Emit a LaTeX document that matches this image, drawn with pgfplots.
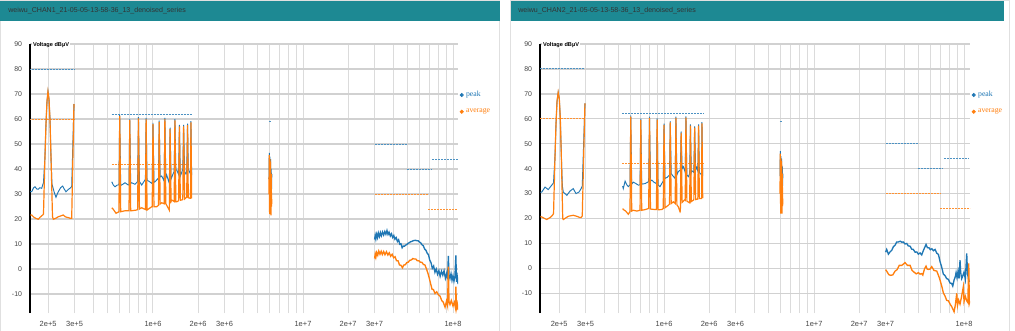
\documentclass[border=0pt]{standalone}
\usepackage{fontspec}
\setmainfont{Liberation Sans}
\newfontfamily\legendfont{Liberation Serif}
\usepackage{pgfplots}
\pgfplotsset{compat=1.18}
\definecolor{cpeak}{HTML}{1F77B4}
\definecolor{cavg}{HTML}{FF7F0E}
\definecolor{hdr}{HTML}{1D8993}
\definecolor{ticktxt}{HTML}{444444}
\tikzset{
 pk/.style={color=cpeak, line width=0.7pt},
 av/.style={color=cavg, line width=0.9pt},
 pkn/.style={color=cpeak, line width=1.0pt},
 avn/.style={color=cavg, line width=1.0pt},
 lpk/.style={color=cpeak!80!white, dash pattern=on 1.5pt off 0.75pt, line width=0.75pt},
 lav/.style={color=cavg!85!white, dash pattern=on 1.5pt off 0.75pt, line width=0.75pt},
}

\begin{document}
\begin{tikzpicture}
\path[use as bounding box] (0,0) rectangle (761.25pt,-247.5pt);
\begin{scope}[x=0.75pt,y=-0.75pt]
 \fill[white] (0,0) rectangle (1015,330);
 \draw[black!12, line width=0.75pt] (0.5,0.5) rectangle (499.5,340);
 \fill[hdr] (0.5,0.5) rectangle (499.5,20.5);
 \node[anchor=west, inner sep=0pt, text=black!80, font=\fontsize{5.3}{6}\selectfont] at (8,11) {weiwu\_CHAN1\_21-05-05-13-58-36\_13\_denoised\_series};
 \draw[black!12, line width=0.75pt] (510.5,0.5) rectangle (1009.5,340);
 \fill[hdr] (510.5,0.5) rectangle (1004,20.5);
 \node[anchor=west, inner sep=0pt, text=black!80, font=\fontsize{5.3}{6}\selectfont] at (518,11) {weiwu\_CHAN2\_21-05-05-13-58-36\_13\_denoised\_series};
\end{scope}

% ================= PANEL 1 =================
\begin{axis}[name=ax1, at={(22.5pt,-234.75pt)}, anchor=south west,
  scale only axis, width=321pt, height=201.75pt,
  xmode=log, xmin=1.514e5, xmax=1.08e8, ymin=-17.6, ymax=90,
  axis y line=left, axis x line=bottom,
  x axis line style={draw=none},
  y axis line style={black, line width=1.1pt, -},
  xtick={2e5,3e5,1e6,2e6,3e6,1e7,2e7,3e7,1e8},
  xticklabels={2e+5,3e+5,1e+6,2e+6,3e+6,1e+7,2e+7,3e+7,1e+8},
  minor xtick={4e5,5e5,6e5,7e5,8e5,9e5,4e6,5e6,6e6,7e6,8e6,9e6,4e7,5e7,6e7,7e7,8e7,9e7},
  ytick={-10,0,10,20,30,40,50,60,70,80,90},
  yticklabels={-10,0,10,20,30,40,50,60,70,80,90},
  major tick length=0pt, minor tick length=0pt,
  xmajorgrids, xminorgrids, ymajorgrids,
  x grid style={black!14, line width=0.75pt},
  y grid style={black!18, line width=1pt},
  xticklabel style={font=\fontsize{5.6}{6}\selectfont, text=ticktxt, yshift=-2.5pt},
  yticklabel style={font=\fontsize{5.2}{6}\selectfont, text=ticktxt, xshift=-2.5pt},
  legend style={draw=none, fill=none, at={(1.004,0.835)}, anchor=north west, font=\fontsize{5.8}{6}\legendfont, row sep=3.5pt, inner sep=0pt},
  legend cell align=left,
  ]
% limits
\addplot[lpk, forget plot] coordinates {(1.5e5,80) (3e5,80)};
\addplot[lpk, forget plot] coordinates {(5.3e5,62) (1.83e6,62)};
\addplot[lpk, forget plot] coordinates {(5.93e6,59) (6.2e6,59)};
\addplot[lpk, forget plot] coordinates {(3e7,50) (4.93e7,50)};
\addplot[lpk, forget plot] coordinates {(4.93e7,40) (7.24e7,40)};
\addplot[lpk, forget plot] coordinates {(7.3e7,44) (1.08e8,44)};
\addplot[lav, forget plot] coordinates {(1.5e5,60) (3e5,60)};
\addplot[lav, forget plot] coordinates {(5.3e5,42) (1.83e6,42)};
\addplot[lav, forget plot] coordinates {(3e7,30) (6.85e7,30)};
\addplot[lav, forget plot] coordinates {(6.85e7,24) (1.08e8,24)};
% peak
\addplot[pk, forget plot] coordinates {(1.52e5,31.0) (1.553e5,30.9) (1.60e5,32.5) (1.634e5,32.9) (1.68e5,32.0) (1.719e5,31.9) (1.76e5,32.5) (1.811e5,32.3) (1.85e5,34.0) (1.862e5,34.5) (1.905e5,45) (1.935e5,58) (1.965e5,67) (1.995e5,71) (2.026e5,68) (2.057e5,60) (2.089e5,45) (2.12e5,34) (2.145e5,32.9) (2.20e5,30.5) (2.256e5,28.7) (2.30e5,30.0) (2.337e5,30.9) (2.42e5,32.5) (2.50e5,33.2) (2.56e5,32.0) (2.63e5,30.9) (2.72e5,31.8) (2.797e5,32.3) (2.871e5,33.0) (2.973e5,66.0)};
\addplot[pk, forget plot] coordinates {(5.31e5,34.9) (5.45e5,33.5) (5.58e5,32.9) (5.78e5,33.6) (5.93e5,33.6) (6.00e5,61.7) (6.09e5,33.4) (6.18e5,33.6) (6.51e5,34.5) (6.84e5,33.6) (6.92e5,33.8) (7.00e5,60.1) (7.10e5,34.2) (7.21e5,34.5) (7.59e5,33.9) (7.90e5,35.0) (8.00e5,60.8) (8.12e5,35.0) (8.41e5,33.6) (8.84e5,35.6) (8.90e5,35.5) (9.00e5,60.5) (9.13e5,35.3) (9.30e5,35.3) (9.80e5,34.3) (9.88e5,34.5) (1.000e6,58.5) (1.015e6,34.7) (1.031e6,34.9) (1.085e6,36.3) (1.088e6,36.3) (1.100e6,59.4) (1.116e6,36.8) (1.143e6,37.2) (1.184e6,35.3) (1.187e6,35.5) (1.200e6,60.5) (1.218e6,36.5) (1.234e6,37.6) (1.265e6,35.5) (1.285e6,34.3) (1.300e6,56.5) (1.320e6,36.0) (1.366e6,38.3) (1.384e6,39.0) (1.400e6,60.0) (1.420e6,39.6) (1.439e6,39.6) (1.482e6,37.8) (1.500e6,57.6) (1.522e6,37.2) (1.553e6,38.6) (1.580e6,39.9) (1.600e6,57.6) (1.625e6,39.0) (1.660e6,38.0) (1.677e6,38.5) (1.700e6,58.1) (1.719e6,39.9) (1.765e6,38.5) (1.780e6,38.0) (1.790e6,59.2) (1.810e6,37.6)};
\addplot[pk, forget plot] coordinates {(5.93e6,36) (5.96e6,46.5) (5.99e6,30) (6.02e6,45) (6.05e6,33) (6.08e6,44) (6.11e6,35) (6.14e6,40) (6.17e6,32) (6.2e6,38)};
\addplot[pkn, forget plot] coordinates {(3.00e7,11.8) (3.03e7,13.4) (3.06e7,12.0) (3.10e7,13.9) (3.14e7,12.6) (3.18e7,14.4) (3.23e7,13.0) (3.28e7,14.6) (3.33e7,13.3) (3.39e7,14.8) (3.45e7,13.6) (3.51e7,15.0) (3.57e7,13.9) (3.63e7,15.4) (3.69e7,13.8) (3.75e7,14.7) (3.82e7,13.2) (3.89e7,14.1) (3.96e7,12.6) (4.03e7,13.4) (4.10e7,11.9) (4.18e7,12.6) (4.26e7,11.0) (4.34e7,11.7) (4.42e7,9.9) (4.50e7,10.1) (4.58e7,8.5) (4.66e7,9.2) (4.75e7,9.1) (4.84e7,9.6) (4.93e7,9.8) (5.02e7,10.3) (5.11e7,10.5) (5.21e7,10.9) (5.31e7,11.0) (5.41e7,11.3) (5.52e7,11.4) (5.63e7,11.5) (5.74e7,11.3) (5.85e7,11.3) (5.97e7,10.8) (6.09e7,10.5) (6.21e7,9.7) (6.34e7,9.3) (6.47e7,8.0) (6.60e7,7.5) (6.73e7,6.3) (6.86e7,5.8) (7.00e7,3.5) (7.14e7,2.5) (7.28e7,0.3) (7.43e7,1.2) (7.58e7,-1.3) (7.73e7,0.0) (7.89e7,-2.1) (8.05e7,-0.6) (8.21e7,-2.9) (8.38e7,-0.9) (8.55e7,-2.5) (8.72e7,-0.7) (8.90e7,-3.7) (9.08e7,-1.7) (9.20e7,-4.1) (9.31e7,5.2) (9.40e7,-2.2) (9.55e7,-3.8) (9.70e7,-1.9) (9.85e7,-4.5) (1.000e8,-2.7) (1.015e8,-4.8) (1.030e8,-2.9) (1.045e8,5.4) (1.055e8,-5.1) (1.068e8,-3.2) (1.080e8,-6.0)};
% average
\addplot[av, forget plot] coordinates {(1.52e5,21.6) (1.553e5,21.6) (1.60e5,20.8) (1.65e5,20.3) (1.719e5,19.9) (1.76e5,20.6) (1.839e5,21.6) (1.862e5,22.0) (1.905e5,45) (1.935e5,58) (1.965e5,67) (1.995e5,71) (2.026e5,68) (2.057e5,60) (2.089e5,45) (2.138e5,21) (2.165e5,19.9) (2.25e5,20.3) (2.337e5,20.9) (2.42e5,21.2) (2.523e5,21.6) (2.60e5,20.9) (2.659e5,20.7) (2.75e5,20.5) (2.80e5,20.3) (2.871e5,20.3) (2.973e5,66.0)};
\addplot[av, forget plot] coordinates {(5.31e5,24.5) (5.43e5,23.9) (5.67e5,22.3) (5.93e5,22.9) (6.00e5,61.2) (6.09e5,22.9) (6.51e5,23.3) (6.92e5,23.3) (7.00e5,59.6) (7.10e5,23.3) (7.21e5,23.3) (7.79e5,23.6) (7.90e5,23.8) (8.00e5,60.3) (8.12e5,24.0) (8.41e5,24.5) (8.90e5,23.8) (9.00e5,60.0) (9.13e5,23.6) (9.80e5,24.9) (9.88e5,24.9) (1.000e6,58.0) (1.015e6,24.9) (1.058e6,24.9) (1.088e6,25.5) (1.100e6,58.9) (1.116e6,26.0) (1.143e6,26.5) (1.187e6,26.1) (1.200e6,60.0) (1.218e6,26.1) (1.265e6,24.3) (1.285e6,23.5) (1.300e6,56.0) (1.320e6,27.0) (1.333e6,27.6) (1.384e6,27.0) (1.400e6,59.5) (1.420e6,26.9) (1.439e6,26.9) (1.482e6,27.3) (1.500e6,57.1) (1.522e6,27.5) (1.553e6,27.6) (1.580e6,27.8) (1.600e6,57.1) (1.625e6,28.0) (1.677e6,28.7) (1.700e6,57.6) (1.719e6,28.5) (1.765e6,28.3) (1.780e6,28.3) (1.790e6,58.7) (1.810e6,28.3)};
\addplot[av, forget plot] coordinates {(5.93e6,30) (5.96e6,45.6) (5.99e6,22) (6.02e6,44) (6.05e6,24) (6.08e6,43) (6.11e6,21.5) (6.14e6,38) (6.17e6,25) (6.2e6,28)};
\addplot[avn, forget plot] coordinates {(3.00e7,4.2) (3.03e7,5.9) (3.06e7,4.7) (3.10e7,6.6) (3.15e7,5.5) (3.20e7,7.2) (3.26e7,5.9) (3.32e7,7.1) (3.38e7,5.8) (3.45e7,7.0) (3.52e7,5.7) (3.60e7,6.9) (3.68e7,5.6) (3.76e7,6.5) (3.84e7,5.1) (3.93e7,5.9) (4.02e7,4.5) (4.11e7,4.9) (4.20e7,3.3) (4.30e7,3.3) (4.40e7,1.6) (4.50e7,1.5) (4.60e7,0.5) (4.70e7,1.6) (4.81e7,1.7) (4.92e7,2.6) (5.03e7,2.7) (5.15e7,3.5) (5.27e7,3.6) (5.40e7,4.2) (5.52e7,4.0) (5.65e7,4.0) (5.78e7,3.3) (5.92e7,3.3) (6.06e7,2.7) (6.20e7,2.7) (6.35e7,1.8) (6.50e7,1.6) (6.65e7,0.1) (6.80e7,-1.6) (6.95e7,-3.7) (7.10e7,-6.0) (7.25e7,-8.1) (7.40e7,-8.2) (7.59e7,-9.8) (7.79e7,-9.1) (7.98e7,-10.3) (8.19e7,-10.8) (8.41e7,-12.6) (8.62e7,-13.3) (8.85e7,-15.3) (9.05e7,-12.8) (9.20e7,-14.7) (9.31e7,0.9) (9.40e7,-13.0) (9.55e7,-14.2) (9.75e7,-12.6) (1.000e8,-14.8) (1.020e8,-13.3) (1.040e8,-15.7) (1.045e8,-7.1) (1.055e8,-15.6) (1.068e8,-14.0) (1.080e8,-16.4)};
\addlegendimage{only marks, mark=*, mark size=1.3pt, cpeak}
\addlegendentry{\textcolor{cpeak}{peak}}
\addlegendimage{only marks, mark=*, mark size=1.3pt, cavg}
\addlegendentry{\textcolor{cavg}{average}}
\end{axis}
\node[anchor=west, fill=white, inner sep=0.6pt, font=\bfseries\fontsize{4.2}{5}\selectfont] at ([xshift=1.6pt,yshift=-0.6pt]ax1.north west) {Voltage dBµV};

% ================= PANEL 2 =================
\begin{axis}[name=ax2, at={(405pt,-234.75pt)}, anchor=south west,
  scale only axis, width=322.5pt, height=201.75pt,
  xmode=log, xmin=1.49e5, xmax=1.096e8, ymin=-17.9, ymax=90,
  axis y line=left, axis x line=bottom,
  x axis line style={draw=none},
  y axis line style={black, line width=1.1pt, -},
  xtick={2e5,3e5,1e6,2e6,3e6,1e7,2e7,3e7,1e8},
  xticklabels={2e+5,3e+5,1e+6,2e+6,3e+6,1e+7,2e+7,3e+7,1e+8},
  minor xtick={4e5,5e5,6e5,7e5,8e5,9e5,4e6,5e6,6e6,7e6,8e6,9e6,4e7,5e7,6e7,7e7,8e7,9e7},
  ytick={-10,0,10,20,30,40,50,60,70,80,90},
  yticklabels={-10,0,10,20,30,40,50,60,70,80,90},
  major tick length=0pt, minor tick length=0pt,
  xmajorgrids, xminorgrids, ymajorgrids,
  x grid style={black!14, line width=0.75pt},
  y grid style={black!18, line width=1pt},
  xticklabel style={font=\fontsize{5.6}{6}\selectfont, text=ticktxt, yshift=-2.5pt},
  yticklabel style={font=\fontsize{5.2}{6}\selectfont, text=ticktxt, xshift=-2.5pt},
  legend style={draw=none, fill=none, at={(1.004,0.835)}, anchor=north west, font=\fontsize{5.8}{6}\legendfont, row sep=3.5pt, inner sep=0pt},
  legend cell align=left,
  ]
\addplot[lpk, forget plot] coordinates {(1.5e5,80) (2.99e5,80)};
\addplot[lpk, forget plot] coordinates {(5.27e5,62) (1.83e6,62)};
\addplot[lpk, forget plot] coordinates {(5.93e6,59) (6.2e6,59)};
\addplot[lpk, forget plot] coordinates {(3e7,50) (4.96e7,50)};
\addplot[lpk, forget plot] coordinates {(4.9e7,40) (7.2e7,40)};
\addplot[lpk, forget plot] coordinates {(7.35e7,44) (1.085e8,44)};
\addplot[lav, forget plot] coordinates {(1.5e5,60) (2.99e5,60)};
\addplot[lav, forget plot] coordinates {(5.27e5,42) (1.83e6,42)};
\addplot[lav, forget plot] coordinates {(3e7,30) (6.9e7,30)};
\addplot[lav, forget plot] coordinates {(6.9e7,24) (1.096e8,24)};
% peak
\addplot[pk, forget plot] coordinates {(1.50e5,30.5) (1.53e5,30.6) (1.61e5,32.6) (1.69e5,31.6) (1.78e5,33.3) (1.83e5,34.2) (1.834e5,34.5) (1.876e5,45) (1.905e5,58) (1.935e5,67) (1.97e5,70.6) (2.004e5,68) (2.035e5,60) (2.067e5,45) (2.10e5,33) (2.13e5,30.6) (2.25e5,29.3) (2.36e5,31.0) (2.48e5,32.0) (2.59e5,30.0) (2.71e5,30.6) (2.80e5,32.0) (2.85e5,33.0) (2.97e5,66.2)};
\addplot[pk, forget plot] coordinates {(5.30e5,33.0) (5.35e5,32.0) (5.50e5,35.0) (5.65e5,33.5) (5.78e5,32.8) (5.93e5,33.5) (6.00e5,61.4) (6.09e5,33.8) (6.24e5,34.6) (6.50e5,34.0) (6.74e5,33.4) (6.92e5,33.5) (7.00e5,60.1) (7.10e5,33.8) (7.47e5,34.0) (7.90e5,34.8) (8.00e5,60.9) (8.12e5,35.0) (8.28e5,35.4) (8.60e5,34.5) (8.90e5,34.0) (9.00e5,60.2) (9.13e5,33.5) (9.40e5,32.8) (9.65e5,34.0) (9.88e5,35.0) (1.000e6,58.1) (1.015e6,36.1) (1.050e6,36.5) (1.088e6,37.5) (1.100e6,59.1) (1.116e6,38.0) (1.150e6,37.0) (1.184e6,36.1) (1.187e6,36.5) (1.200e6,60.9) (1.218e6,37.5) (1.245e6,38.8) (1.285e6,39.5) (1.300e6,54.9) (1.320e6,40.0) (1.345e6,40.8) (1.384e6,38.5) (1.400e6,61.0) (1.420e6,37.5) (1.452e6,36.8) (1.482e6,38.0) (1.500e6,57.8) (1.520e6,38.5) (1.530e6,39.2) (1.580e6,38.5) (1.600e6,57.0) (1.625e6,39.5) (1.652e6,40.5) (1.680e6,39.0) (1.700e6,57.8) (1.720e6,38.5) (1.738e6,38.1) (1.780e6,37.5) (1.790e6,58.7) (1.810e6,37.0)};
\addplot[pk, forget plot] coordinates {(5.93e6,37) (5.96e6,47) (5.99e6,31) (6.02e6,45) (6.05e6,34) (6.08e6,44) (6.11e6,36) (6.14e6,41) (6.17e6,33) (6.2e6,38)};
\addplot[pkn, forget plot] coordinates {(3.00e7,6.5) (3.05e7,7.6) (3.13e7,5.7) (3.21e7,6.6) (3.30e7,7.3) (3.38e7,8.7) (3.47e7,9.3) (3.56e7,10.6) (3.65e7,10.6) (3.75e7,10.9) (3.85e7,10.5) (3.94e7,10.6) (4.04e7,9.8) (4.15e7,10.0) (4.25e7,9.0) (4.37e7,8.9) (4.48e7,7.7) (4.59e7,7.6) (4.72e7,6.5) (4.84e7,6.6) (4.96e7,5.7) (5.09e7,6.2) (5.22e7,5.4) (5.35e7,7.1) (5.45e7,8.2) (5.58e7,9.6) (5.70e7,8.3) (5.83e7,8.3) (5.96e7,7.5) (6.10e7,7.9) (6.25e7,7.1) (6.41e7,7.6) (6.58e7,6.1) (6.75e7,5.6) (6.92e7,2.7) (7.10e7,0.5) (7.28e7,-2.3) (7.47e7,-2.9) (7.66e7,-4.1) (7.86e7,-4.4) (8.07e7,-5.9) (8.26e7,-6.0) (8.41e7,-7.1) (8.58e7,-4.7) (8.75e7,-3.3) (8.85e7,-1.7) (8.98e7,-3.8) (9.12e7,-1.2) (9.26e7,-4.1) (9.40e7,3.3) (9.50e7,-1.7) (9.65e7,-4.1) (9.80e7,-3.1) (1.000e8,-1.5) (1.020e8,-4.3) (1.042e8,6.0) (1.055e8,-2.2) (1.070e8,-4.1) (1.085e8,-5.4)};
% average
\addplot[av, forget plot] coordinates {(1.50e5,20.8) (1.53e5,20.6) (1.65e5,19.6) (1.74e5,20.4) (1.80e5,21.2) (1.834e5,22.0) (1.876e5,45) (1.905e5,58) (1.935e5,67) (1.97e5,70.6) (2.004e5,68) (2.035e5,60) (2.067e5,45) (2.112e5,20) (2.13e5,19.6) (2.30e5,20.9) (2.48e5,21.3) (2.62e5,20.9) (2.75e5,20.4) (2.80e5,20.4) (2.85e5,21.0) (2.97e5,66.2)};
\addplot[av, forget plot] coordinates {(5.30e5,24.0) (5.35e5,23.6) (5.55e5,23.0) (5.78e5,21.7) (5.93e5,22.8) (6.00e5,60.9) (6.09e5,23.0) (6.24e5,23.3) (6.60e5,23.0) (6.92e5,23.3) (7.00e5,59.6) (7.10e5,23.3) (7.50e5,23.6) (7.86e5,24.0) (7.90e5,24.0) (8.00e5,60.4) (8.12e5,23.8) (8.71e5,23.6) (8.90e5,23.6) (9.00e5,59.7) (9.13e5,23.5) (9.65e5,23.6) (9.88e5,24.0) (1.000e6,57.6) (1.015e6,24.3) (1.068e6,25.3) (1.088e6,25.8) (1.100e6,58.6) (1.116e6,26.0) (1.153e6,26.7) (1.187e6,26.0) (1.200e6,60.4) (1.218e6,25.5) (1.245e6,24.7) (1.279e6,22.7) (1.285e6,23.0) (1.300e6,54.4) (1.320e6,26.5) (1.380e6,27.6) (1.384e6,27.5) (1.400e6,60.5) (1.420e6,27.0) (1.460e6,26.5) (1.482e6,26.3) (1.500e6,57.3) (1.520e6,26.8) (1.580e6,27.5) (1.600e6,56.5) (1.625e6,27.6) (1.680e6,27.8) (1.700e6,57.3) (1.720e6,28.0) (1.780e6,28.0) (1.790e6,58.2) (1.810e6,28.2)};
\addplot[av, forget plot] coordinates {(5.93e6,30) (5.96e6,46) (5.99e6,22) (6.02e6,44) (6.05e6,24) (6.08e6,43) (6.11e6,22) (6.14e6,38) (6.17e6,25) (6.2e6,28)};
\addplot[avn, forget plot] coordinates {(3.00e7,-0.5) (3.05e7,-1.1) (3.15e7,-2.5) (3.245e7,-2.8) (3.35e7,-2.6) (3.47e7,-1.1) (3.58e7,-0.5) (3.70e7,1.2) (3.85e7,1.2) (4.04e7,2.3) (4.20e7,1.2) (4.37e7,1.2) (4.50e7,-0.8) (4.64e7,-1.5) (4.80e7,-2.2) (4.96e7,-1.7) (5.09e7,-2.3) (5.22e7,-2.1) (5.31e7,-2.7) (5.45e7,-0.2) (5.58e7,0.9) (5.68e7,-0.3) (5.78e7,-0.4) (5.93e7,-0.3) (6.09e7,0.7) (6.30e7,-0.8) (6.58e7,-1.1) (6.85e7,-3.8) (7.10e7,-7.1) (7.28e7,-9.8) (7.47e7,-11.1) (7.66e7,-12.8) (7.86e7,-13.0) (8.07e7,-14.3) (8.30e7,-15.5) (8.58e7,-17.4) (8.75e7,-14.7) (8.94e7,-10.0) (9.05e7,-14.8) (9.20e7,-12.7) (9.40e7,-14.3) (9.60e7,-11.7) (9.89e7,-7.4) (1.000e8,-13.3) (1.020e8,-11.2) (1.042e8,-13.0) (1.060e8,-13.7) (1.075e8,2.0) (1.085e8,-14.0) (1.096e8,-13.0)};
\addlegendimage{only marks, mark=*, mark size=1.3pt, cpeak}
\addlegendentry{\textcolor{cpeak}{peak}}
\addlegendimage{only marks, mark=*, mark size=1.3pt, cavg}
\addlegendentry{\textcolor{cavg}{average}}
\end{axis}
\node[anchor=west, fill=white, inner sep=0.6pt, font=\bfseries\fontsize{4.2}{5}\selectfont] at ([xshift=1.6pt,yshift=-0.6pt]ax2.north west) {Voltage dBµV};
\end{tikzpicture}
\end{document}
